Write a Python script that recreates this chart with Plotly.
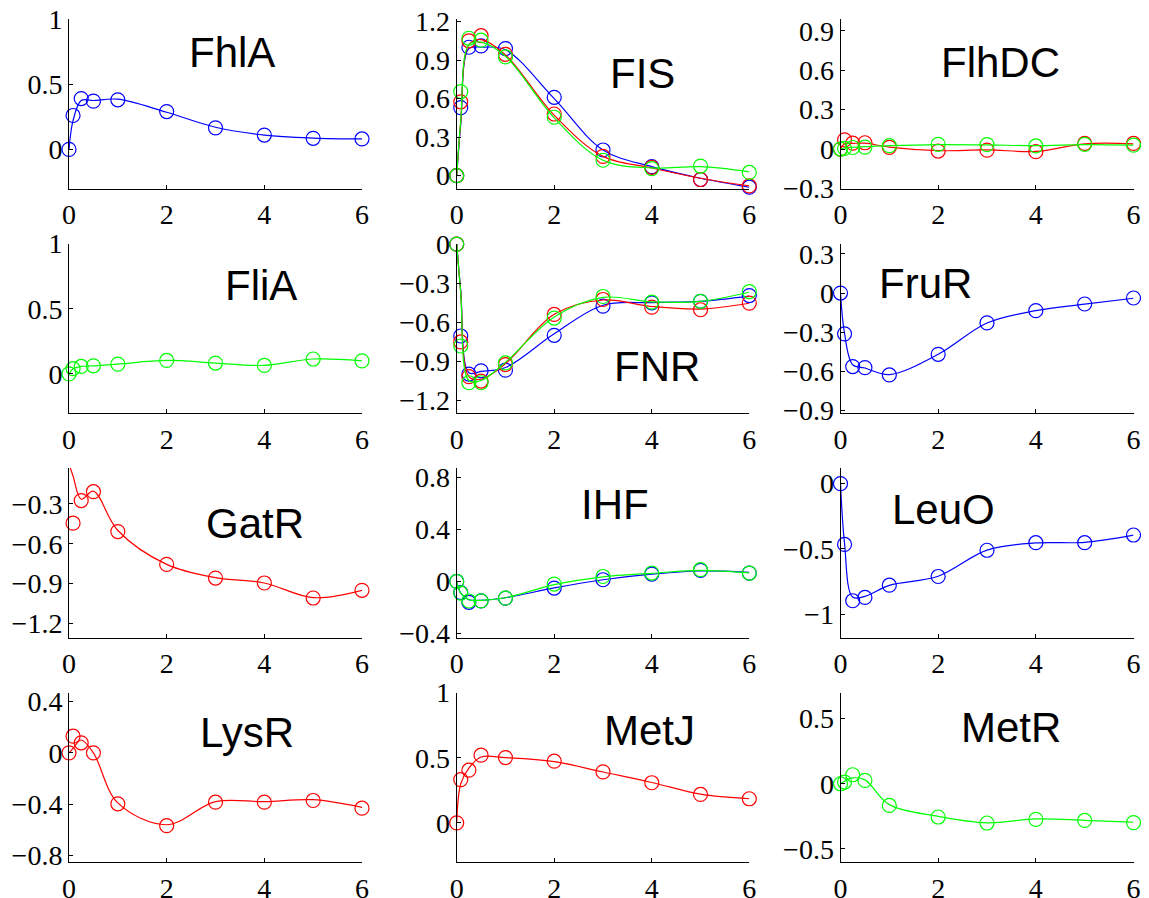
import plotly.graph_objects as go

# ---------------- data ----------------
T = [0, 0.083, 0.25, 0.5, 1, 2, 3, 4, 5, 6]
X_TICKS = [0, 2, 4, 6]

fhla_blue = [0, 0.26, 0.39, 0.37, 0.38, 0.29, 0.165, 0.11, 0.085, 0.08]
fhla_blue_fit = [0, 0.22, 0.375, 0.375, 0.385, 0.285, 0.17, 0.11, 0.087, 0.08]

fis_blue = [0, 0.53, 1.0, 1.01, 0.99, 0.61, 0.20, 0.07, -0.03, -0.09]
fis_blue_fit = [0, 0.40, 0.99, 1.0, 0.98, 0.60, 0.20, 0.07, -0.02, -0.09]
fis_red = [0, 0.575, 1.05, 1.09, 0.945, 0.48, 0.15, 0.065, -0.03, -0.08]
fis_red_fit = [0, 0.42, 1.02, 1.06, 0.94, 0.47, 0.15, 0.06, -0.02, -0.08]
fis_green = [0, 0.655, 1.07, 1.055, 0.925, 0.455, 0.12, 0.055, 0.075, 0.025]
fis_green_fit = [0, 0.43, 1.02, 1.04, 0.93, 0.45, 0.12, 0.06, 0.07, 0.03]

flhdc_red = [0, 0.07, 0.045, 0.048, 0.013, -0.015, -0.008, -0.02, 0.043, 0.043]
flhdc_red_fit = [0, 0.04, 0.043, 0.045, 0.015, -0.012, -0.006, -0.018, 0.04, 0.04]
flhdc_green = [0, 0.005, 0.012, 0.015, 0.026, 0.036, 0.034, 0.024, 0.036, 0.03]
flhdc_green_fit = [0, 0.008, 0.014, 0.018, 0.026, 0.034, 0.032, 0.026, 0.034, 0.03]

flia_green = [0, 0.04, 0.057, 0.062, 0.075, 0.103, 0.083, 0.065, 0.114, 0.10]

fnr_blue = [0, -0.707, -1.0, -0.975, -0.97, -0.702, -0.477, -0.452, -0.44, -0.396]
fnr_blue_fit = [0, -0.36, -0.99, -0.98, -0.95, -0.69, -0.47, -0.45, -0.44, -0.40]
fnr_red = [0, -0.753, -1.02, -1.054, -0.927, -0.541, -0.426, -0.485, -0.505, -0.454]
fnr_red_fit = [0, -0.37, -1.02, -1.04, -0.92, -0.54, -0.43, -0.48, -0.50, -0.455]
fnr_green = [0, -0.784, -1.067, -1.067, -0.914, -0.569, -0.403, -0.447, -0.44, -0.365]
fnr_green_fit = [0, -0.38, -1.05, -1.05, -0.91, -0.56, -0.41, -0.445, -0.44, -0.37]

frur_blue = [0, -0.313, -0.564, -0.572, -0.628, -0.47, -0.229, -0.135, -0.084, -0.038]
frur_blue_fit = [0, -0.31, -0.55, -0.575, -0.625, -0.47, -0.23, -0.135, -0.085, -0.04]

gatr_red = [None, -0.445, -0.275, -0.208, -0.508, -0.755, -0.858, -0.895, -1.008, -0.95]
gatr_red_fit = [0, -0.09, -0.265, -0.205, -0.50, -0.755, -0.855, -0.895, -1.005, -0.95]

ihf_blue = [0, -0.085, -0.16, -0.149, -0.128, -0.051, 0.013, 0.056, 0.085, 0.064]
ihf_blue_fit = [0, -0.09, -0.14, -0.145, -0.125, -0.05, 0.013, 0.056, 0.08, 0.07]
ihf_green = [0, -0.09, -0.15, -0.149, -0.128, -0.02, 0.038, 0.064, 0.09, 0.064]
ihf_green_fit = [0, -0.09, -0.14, -0.145, -0.125, -0.025, 0.035, 0.062, 0.085, 0.065]

leuo_blue = [0, -0.466, -0.898, -0.873, -0.779, -0.712, -0.511, -0.453, -0.453, -0.394]
leuo_blue_fit = [0, -0.46, -0.87, -0.865, -0.78, -0.71, -0.51, -0.455, -0.45, -0.395]

lysr_red = [0, 0.13, 0.078, 0.0, -0.397, -0.567, -0.384, -0.384, -0.371, -0.431]
lysr_red_fit = [0, 0.035, 0.10, 0.0, -0.39, -0.56, -0.38, -0.38, -0.365, -0.425]

metj_red = [0, 0.332, 0.404, 0.519, 0.501, 0.473, 0.391, 0.308, 0.218, 0.185]
metj_red_fit = [0, 0.30, 0.42, 0.505, 0.50, 0.47, 0.39, 0.31, 0.22, 0.185]

metr_green = [0, 0.013, 0.069, 0.026, -0.166, -0.255, -0.301, -0.273, -0.281, -0.298]
metr_green_fit = [0, 0.02, 0.045, 0.03, -0.16, -0.25, -0.30, -0.27, -0.28, -0.295]

# ---------------- styling / layout ----------------
BLUE, RED, GREEN = "#0000ff", "#ff0000", "#00ff00"
OFF = 8                      # page body margin of the html page
W, H = 1149 - OFF, 898 - OFF  # figure size in page pixels
COLS = [(69, 362), (456.7, 749.3), (840.5, 1133.5)]
ROWS = [(19, 188.5), (243.5, 413), (468, 637.5), (692.5, 862)]


def px(v):
    return (v - OFF) / W


def py(v):
    return 1 - (v - OFF) / H


panels = [
    dict(title="FhlA", yr=[-0.3, 1.0], yt=[0, 0.5, 1], yl=["0", "0.5", "1"],
         series=[(BLUE, fhla_blue, fhla_blue_fit)], tpos=(231.5, 52.5)),
    dict(title="FIS", yr=[-0.1, 1.22], yt=[0, 0.3, 0.6, 0.9, 1.2], yl=["0", "0.3", "0.6", "0.9", "1.2"],
         series=[(BLUE, fis_blue, fis_blue_fit), (RED, fis_red, fis_red_fit), (GREEN, fis_green, fis_green_fit)],
         tpos=(642, 73.5)),
    dict(title="FlhDC", yr=[-0.3, 0.99], yt=[-0.3, 0, 0.3, 0.6, 0.9], yl=["\u22120.3", "0", "0.3", "0.6", "0.9"],
         series=[(RED, flhdc_red, flhdc_red_fit), (GREEN, flhdc_green, flhdc_green_fit)], tpos=(1000, 62.5)),
    dict(title="FliA", yr=[-0.3, 1.0], yt=[0, 0.5, 1], yl=["0", "0.5", "1"],
         series=[(GREEN, flia_green, flia_green)], tpos=(260.5, 285)),
    dict(title="FNR", yr=[-1.3, 0.005], yt=[-1.2, -0.9, -0.6, -0.3, 0],
         yl=["\u22121.2", "\u22120.9", "\u22120.6", "\u22120.3", "0"],
         series=[(BLUE, fnr_blue, fnr_blue_fit), (RED, fnr_red, fnr_red_fit), (GREEN, fnr_green, fnr_green_fit)],
         tpos=(656.5, 367)),
    dict(title="FruR", yr=[-0.92, 0.38], yt=[-0.9, -0.6, -0.3, 0, 0.3],
         yl=["\u22120.9", "\u22120.6", "\u22120.3", "0", "0.3"],
         series=[(BLUE, frur_blue, frur_blue_fit)], tpos=(925.5, 283)),
    dict(title="GatR", yr=[-1.305, -0.03], yt=[-1.2, -0.9, -0.6, -0.3],
         yl=["\u22121.2", "\u22120.9", "\u22120.6", "\u22120.3"],
         series=[(RED, gatr_red, gatr_red_fit)], tpos=(255, 523)),
    dict(title="IHF", yr=[-0.43, 0.87], yt=[-0.4, 0, 0.4, 0.8], yl=["\u22120.4", "0", "0.4", "0.8"],
         series=[(BLUE, ihf_blue, ihf_blue_fit), (GREEN, ihf_green, ihf_green_fit)], tpos=(615, 504.5)),
    dict(title="LeuO", yr=[-1.18, 0.12], yt=[-1, -0.5, 0], yl=["\u22121", "\u22120.5", "0"],
         series=[(BLUE, leuo_blue, leuo_blue_fit)], tpos=(943, 509.5)),
    dict(title="LysR", yr=[-0.85, 0.47], yt=[-0.8, -0.4, 0, 0.4], yl=["\u22120.8", "\u22120.4", "0", "0.4"],
         series=[(RED, lysr_red, lysr_red_fit)], tpos=(247, 732)),
    dict(title="MetJ", yr=[-0.3, 1.0], yt=[0, 0.5, 1], yl=["0", "0.5", "1"],
         series=[(RED, metj_red, metj_red_fit)], tpos=(649.5, 730)),
    dict(title="MetR", yr=[-0.6, 0.7], yt=[-0.5, 0, 0.5], yl=["\u22120.5", "0", "0.5"],
         series=[(GREEN, metr_green, metr_green_fit)], tpos=(1011, 727)),
]

fig = go.Figure()
SERIF = "Liberation Serif"
tick_font = dict(family=SERIF, size=28, color="black")
annotations = []

for i, p in enumerate(panels):
    r, c = divmod(i, 3)
    k = "" if i == 0 else str(i + 1)
    xa, ya = "x" + k, "y" + k
    for color, obs, fit in p["series"]:
        fig.add_trace(go.Scatter(x=T, y=fit, xaxis=xa, yaxis=ya, mode="lines",
                                 line=dict(color=color, width=1.2, shape="spline", smoothing=1.0),
                                 showlegend=False, hoverinfo="skip"))
        fig.add_trace(go.Scatter(x=T, y=obs, xaxis=xa, yaxis=ya, mode="markers",
                                 marker=dict(symbol="circle-open", size=14, color=color, line=dict(width=1.2)),
                                 cliponaxis=False, showlegend=False))
    x0, x1 = COLS[c]
    y0, y1 = ROWS[r]
    common = dict(showline=True, linecolor="black", linewidth=1, ticks="inside", ticklen=4,
                  tickcolor="black", showgrid=False, zeroline=False, tickfont=tick_font,
                  automargin=False, ticklabeloverflow="allow")
    fig.update_layout(**{
        "xaxis" + k: dict(domain=[px(x0), px(x1)], range=[0, 6], tickvals=X_TICKS,
                          anchor=ya, ticklabelstandoff=1, **common),
        "yaxis" + k: dict(domain=[py(y1), py(y0)], range=p["yr"], tickvals=p["yt"],
                          ticktext=p["yl"], anchor=xa, **common),
    })
    tx, ty = p["tpos"]
    annotations.append(dict(text=p["title"], x=px(tx), y=py(ty), xref="paper", yref="paper",
                            xanchor="center", yanchor="middle", showarrow=False,
                            font=dict(family="Liberation Sans", size=42, color="black")))

fig.update_layout(template="none", width=W, height=H, margin=dict(l=0, r=0, t=0, b=0, pad=0),
                  font=dict(family=SERIF, size=28, color="black"),
                  paper_bgcolor="white", plot_bgcolor="white", annotations=annotations)

fig.write_html("out.html")
